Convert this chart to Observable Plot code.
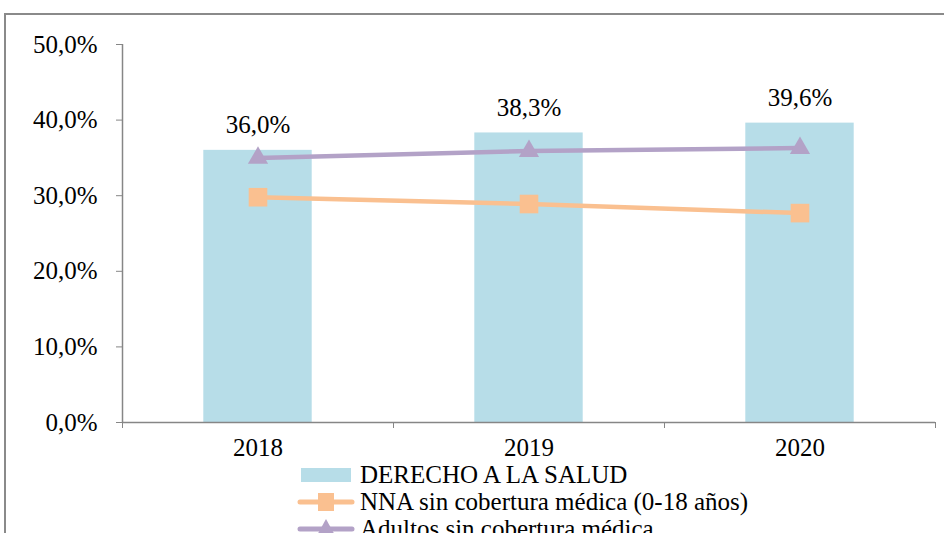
<!DOCTYPE html>
<html>
<head>
<meta charset="utf-8">
<script src="https://cdn.jsdelivr.net/npm/d3@7"></script>
<script src="https://cdn.jsdelivr.net/npm/@observablehq/plot@0.6"></script>
<style>
  html, body { margin: 0; padding: 0; background: #fff; }
  #wrap { position: relative; width: 944px; height: 533px; overflow: hidden; font-family: "Liberation Serif", "Times New Roman", Times, serif; }
  #frameTop { position: absolute; left: 5px; top: 13px; width: 945px; height: 0; border-top: 2px solid #8a8a8a; }
  #frameLeft { position: absolute; left: 4px; top: 13px; width: 0; height: 540px; border-left: 2px solid #8a8a8a; }
  #chart { position: absolute; left: 0; top: 0; }
  #chart svg, #chart svg text { font-family: "Liberation Serif", "Times New Roman", Times, serif; }
  #legend { position: absolute; left: 296px; top: 461px; font-size: 25px; color: #000; }
  .row { display: flex; align-items: center; height: 27px; white-space: nowrap; }
  .row svg { margin-right: 4px; flex: none; }
  .row span { line-height: 1; }
</style>
</head>
<body>
<div id="wrap">
  <div id="frameTop"></div>
  <div id="frameLeft"></div>
  <div id="chart"></div>
  <div id="legend"></div>
</div>
<script>
const years = [2018, 2019, 2020];
const derecho = [36.0, 38.3, 39.6];
const nna = [29.8, 28.9, 27.7];
const adultos = [35.0, 35.9, 36.3];
const yTicks = [0, 10, 20, 30, 40, 50];
const seriesNames = ["DERECHO A LA SALUD", "NNA sin cobertura médica (0-18 años)", "Adultos sin cobertura médica"];
const colors = ["#B7DDE8", "#FAC090", "#B3A2C7"];

const fmt = v => v.toFixed(1).replace(".", ",") + "%";
const bars = years.map((y, i) => ({year: y, v: derecho[i]}));
const nnaData = years.map((y, i) => ({year: y, v: nna[i]}));
const adData = years.map((y, i) => ({year: y, v: adultos[i]}));
const bounds = [years[0] - 0.5, ...years.map(y => y + 0.5)];
const FONT = "'Liberation Serif', 'Times New Roman', Times, serif";

const plot = Plot.plot({
  width: 944,
  height: 462,
  marginLeft: 122,
  marginRight: 9,
  marginTop: 44,
  marginBottom: 40,
  style: {fontFamily: FONT, fontSize: "25px", background: "transparent", color: "#000", overflow: "visible"},
  x: {type: "linear", domain: [bounds[0], bounds[bounds.length - 1]], axis: null},
  y: {domain: [0, 50], axis: null},
  marks: [
    Plot.rectY(bars, {x1: d => d.year - 0.2, x2: d => d.year + 0.2, y: "v", fill: colors[0]}),
    Plot.ruleX([bounds[0]], {y1: 0, y2: 50, stroke: "#868686", strokeWidth: 1.5}),
    Plot.ruleY([0], {x1: bounds[0], x2: bounds[bounds.length - 1], stroke: "#868686", strokeWidth: 1.5}),
    Plot.axisY({ticks: yTicks, tickSize: 6, tickPadding: 19, tickFormat: fmt, stroke: "#868686", fill: "#000", label: null, fontSize: 25}),
    Plot.axisX({ticks: bounds, tickSize: 6, tickFormat: () => "", stroke: "#868686", label: null}),
    Plot.axisX({ticks: years, tickSize: 0, tickPadding: 16, tickFormat: d => String(d), fill: "#000", label: null, fontSize: 25}),
    Plot.line(adData, {x: "year", y: "v", stroke: colors[2], strokeWidth: 4.5}),
    Plot.line(nnaData, {x: "year", y: "v", stroke: colors[1], strokeWidth: 4.5}),
    Plot.dot(nnaData, {x: "year", y: "v", symbol: "square", r: 10.5, fill: colors[1]}),
    Plot.dot(adData, {x: "year", y: "v", symbol: "triangle", r: 7.5, fill: colors[2]}),
    Plot.text(bars, {x: "year", y: "v", text: d => fmt(d.v), dy: -25, fill: "#000", fontSize: 25, fontFamily: FONT})
  ]
});
document.getElementById("chart").appendChild(plot);

// Legend
const legend = document.getElementById("legend");
const ns = "http://www.w3.org/2000/svg";
seriesNames.forEach((name, i) => {
  const row = document.createElement("div");
  row.className = "row";
  const s = document.createElementNS(ns, "svg");
  s.setAttribute("width", 60); s.setAttribute("height", 24);
  if (i === 0) {
    const r = document.createElementNS(ns, "rect");
    r.setAttribute("x", 5); r.setAttribute("y", 5); r.setAttribute("width", 50); r.setAttribute("height", 14);
    r.setAttribute("fill", colors[0]); s.appendChild(r);
  } else {
    const l = document.createElementNS(ns, "line");
    l.setAttribute("x1", 4); l.setAttribute("x2", 56); l.setAttribute("y1", 12); l.setAttribute("y2", 12);
    l.setAttribute("stroke", colors[i]); l.setAttribute("stroke-width", 5); l.setAttribute("stroke-linecap", "round");
    s.appendChild(l);
    const p = document.createElementNS(ns, "path");
    p.setAttribute("d", i === 1 ? "M22,3H38V21H22Z" : "M30,2L40,20H20Z");
    p.setAttribute("fill", colors[i]); s.appendChild(p);
  }
  row.appendChild(s);
  const t = document.createElement("span");
  t.textContent = name;
  row.appendChild(t);
  legend.appendChild(row);
});
</script>
</body>
</html>
